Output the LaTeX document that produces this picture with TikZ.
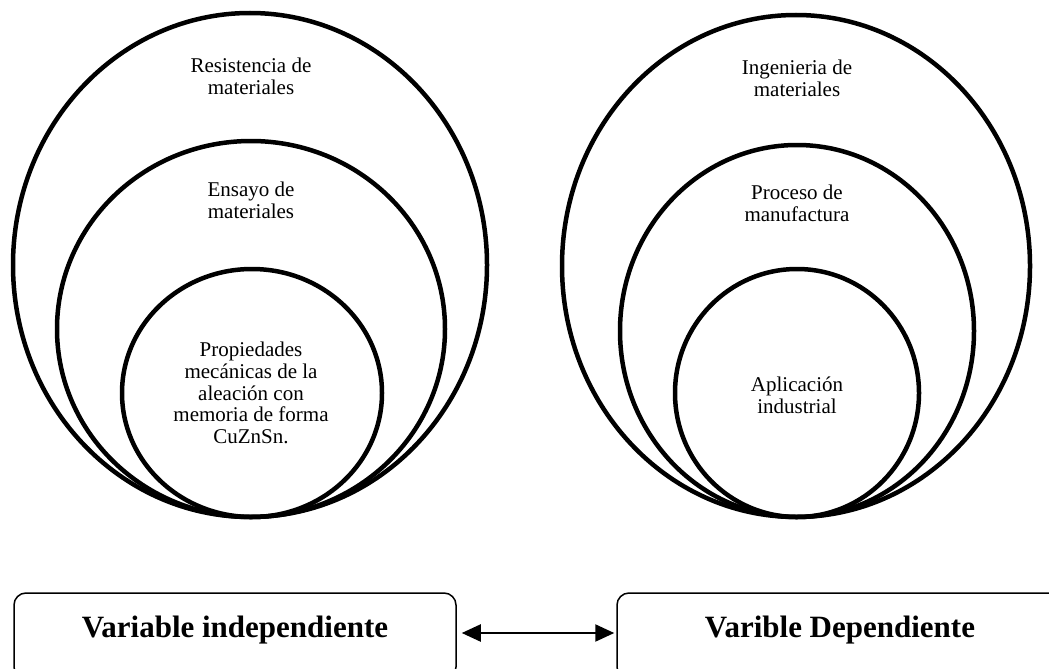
\documentclass[tikz,border=0pt]{standalone}
\usepackage{fontspec}
\setmainfont{Liberation Serif}
\usetikzlibrary{arrows.meta}
\begin{document}
\begin{tikzpicture}[x=1pt,y=-1pt,
  ring/.style={line width=4.5pt},
  lbl/.style={align=center, font=\fontsize{21}{21.8}\selectfont, inner sep=0pt},
  varbox/.style={draw, line width=1.5pt, rounded corners=12pt, minimum height=86pt,
    font=\fontsize{31}{36}\selectfont\bfseries, text height=21pt, text depth=19pt, inner sep=0pt},
  link/.style={line width=2.2pt, {Triangle[length=19pt,width=17pt]}-{Triangle[length=19pt,width=17pt]}}]
\useasboundingbox (0,0) rectangle (1049,669);
% left rings
\draw[ring] (250,265) ellipse [x radius=237pt, y radius=252pt];
\draw[ring] (251,329) ellipse [x radius=194pt, y radius=188pt];
\draw[ring] (252,393) ellipse [x radius=130pt, y radius=124pt];
% right rings
\draw[ring] (796,266) ellipse [x radius=234pt, y radius=251pt];
\draw[ring] (797,331) ellipse [x radius=177pt, y radius=186pt];
\draw[ring] (797,393) ellipse [x radius=122pt, y radius=124pt];
% labels
\node[lbl] (l1) at (251,76) {Resistencia de\\materiales};
\node[lbl] (l2) at (251,200) {Ensayo de\\materiales};
\node[lbl] (l3) at (251,393) {Propiedades\\mecánicas de la\\aleación con\\memoria de forma\\CuZnSn.};
\node[lbl] (r1) at (797,78) {Ingenieria de\\materiales};
\node[lbl] (r2) at (797,203) {Proceso de\\manufactura};
\node[lbl] (r3) at (797,395) {Aplicación\\industrial};
% boxes
\node[varbox, minimum width=442pt] (vi) at (235,636) {Variable independiente};
\node[varbox, minimum width=446pt] (vd) at (840,636) {Varible Dependiente};
\draw[link, shorten <=5pt, shorten >=2pt] ([yshift=3pt]vi.east) -- ([yshift=3pt]vd.west);
\end{tikzpicture}
\end{document}
